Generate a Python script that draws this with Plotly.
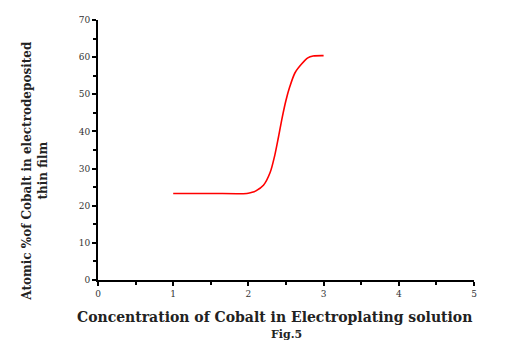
import plotly.graph_objects as go

# Data
conc = [1.0, 1.5, 1.98, 2.05, 2.1, 2.2, 2.29, 2.35, 2.4, 2.45, 2.5, 2.55, 2.62, 2.71, 2.79, 2.86, 3.0]
atomic_pct = [23.3, 23.3, 23.3, 23.6, 24.0, 25.5, 29.0, 33.5, 38.5, 43.8, 48.4, 52.0, 55.8, 58.2, 59.8, 60.3, 60.4]

x_ticks = [0, 1, 2, 3, 4, 5]
y_ticks = [0, 10, 20, 30, 40, 50, 60, 70]

fig = go.Figure()
fig.add_trace(go.Scatter(x=conc, y=atomic_pct, mode="lines",
                         line=dict(color="#ff0000", width=1.6, shape="spline", smoothing=0.8),
                         showlegend=False, hoverinfo="skip"))

axis_common = dict(showline=True, linecolor="black", linewidth=2, ticks="outside",
                   ticklen=4, tickwidth=1.5, tickcolor="black", showgrid=False,
                   zeroline=False, mirror=False,
                   tickfont=dict(family="DejaVu Serif", size=9, color="#333"))

fig.update_xaxes(range=[0, 5], tickvals=x_ticks, tickprefix="<b>", ticksuffix="</b>",
                 minor=dict(ticks="outside", ticklen=3, tickwidth=1.5, tickcolor="black", dtick=0.5, tick0=0),
                 **axis_common)
fig.update_yaxes(range=[0, 70], tickvals=y_ticks, tickprefix="<b>", ticksuffix="</b>",
                 minor=dict(ticks="outside", ticklen=3, tickwidth=1.5, tickcolor="black", dtick=5, tick0=0),
                 **axis_common)

fig.add_annotation(text="<b>Concentration of Cobalt in Electroplating solution</b>",
                   xref="paper", yref="paper", x=0.47, y=-0.143, xanchor="center", yanchor="middle",
                   showarrow=False, font=dict(family="DejaVu Serif", size=14, color="#222"))
fig.add_annotation(text="<b>Fig.5</b>",
                   xref="paper", yref="paper", x=0.5, y=-0.208, xanchor="center", yanchor="middle",
                   showarrow=False, font=dict(family="DejaVu Serif", size=11, color="#222"))
fig.add_annotation(text="<b>Atomic %of Cobalt in electrodeposited<br>thin film</b>",
                   xref="paper", yref="paper", x=-0.168, y=0.42, xanchor="center", yanchor="middle",
                   textangle=-90, showarrow=False,
                   font=dict(family="DejaVu Serif", size=12, color="#222"))

# The page body has an 8px margin, so the figure is sized/offset to compensate
fig.update_layout(width=504, height=335, margin=dict(l=90, r=38, t=7, b=63),
                  paper_bgcolor="white", plot_bgcolor="white")

fig.write_html("out.html")
